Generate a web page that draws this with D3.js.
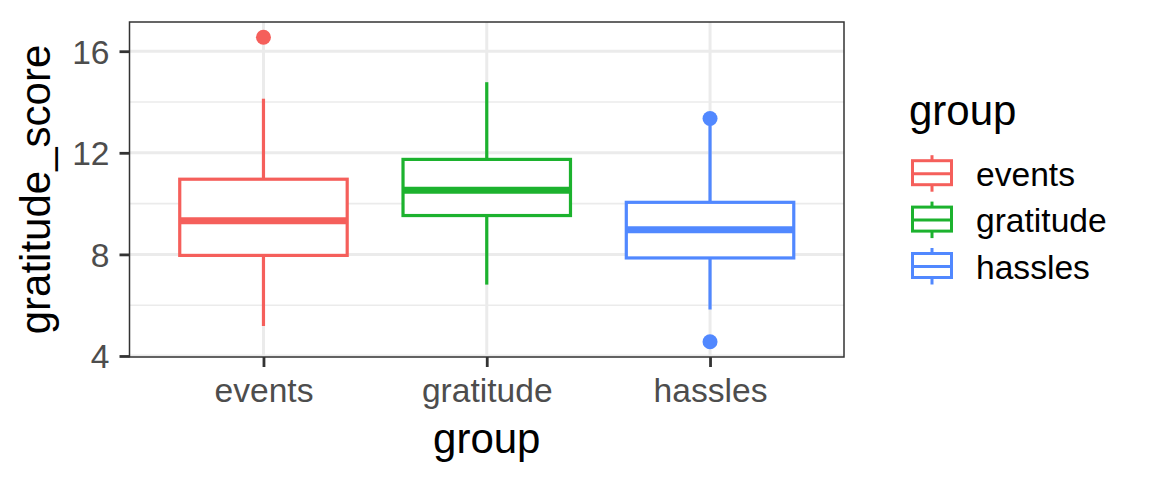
<!DOCTYPE html>
<html>
<head>
<meta charset="utf-8">
<script src="https://cdn.jsdelivr.net/npm/d3@7"></script>
<style>
  html, body { margin: 0; padding: 0; background: #fff; }
  svg { display: block; font-family: "Liberation Sans", Arial, sans-serif; }
</style>
</head>
<body>
<svg id="chart" width="1152" height="480"></svg>
<script>
// ---- data ----
const groups = ["events", "gratitude", "hassles"];
const colors = ["#F55F5B", "#1CB22E", "#5188FF"];
const whiskerLow = [5.18, 6.81, 5.83];
const q1 = [7.96, 9.53, 7.86];
const medians = [9.32, 10.53, 8.97];
const q3 = [10.96, 11.74, 10.05];
const whiskerHigh = [14.13, 14.78, 13.35];
const outlierGroup = ["events", "hassles", "hassles"];
const outlierValue = [16.55, 13.35, 4.56];
const yTicks = [4, 8, 12, 16];
const yMinor = [6, 10, 14];
const yDomain = [3.96, 17.15];

// ---- layout ----
const panel = { left: 129.5, right: 844, top: 22, bottom: 357 };
const svg = d3.select("#chart");

const x = d3.scalePoint().domain(groups).range([panel.left, panel.right]).padding(0.6);
const y = d3.scaleLinear().domain(yDomain).range([panel.bottom, panel.top]);
const color = d3.scaleOrdinal().domain(groups).range(colors);
const boxW = x.step() * 0.75;

const stats = groups.map((g, i) => ({
  g, lo: whiskerLow[i], q1: q1[i], med: medians[i], q3: q3[i], hi: whiskerHigh[i]
}));
const outliers = outlierGroup.map((g, i) => ({ g, v: outlierValue[i] }));

// panel background
svg.append("rect")
  .attr("x", panel.left).attr("y", panel.top)
  .attr("width", panel.right - panel.left).attr("height", panel.bottom - panel.top)
  .attr("fill", "#fff");

const grid = svg.append("g");
// minor y grid
grid.selectAll("line.minor").data(yMinor).join("line")
  .attr("x1", panel.left).attr("x2", panel.right)
  .attr("y1", d => y(d)).attr("y2", d => y(d))
  .attr("stroke", "#EBEBEB").attr("stroke-width", 1.6);
// major y grid
grid.selectAll("line.majory").data(yTicks).join("line")
  .attr("x1", panel.left).attr("x2", panel.right)
  .attr("y1", d => y(d)).attr("y2", d => y(d))
  .attr("stroke", "#EBEBEB").attr("stroke-width", 3);
// major x grid
grid.selectAll("line.majorx").data(groups).join("line")
  .attr("x1", d => x(d)).attr("x2", d => x(d))
  .attr("y1", panel.top).attr("y2", panel.bottom)
  .attr("stroke", "#EBEBEB").attr("stroke-width", 3);

// boxplots
const bp = svg.append("g");
stats.forEach(s => {
  const cx = x(s.g), c = color(s.g);
  const g = bp.append("g");
  g.append("line").attr("x1", cx).attr("x2", cx).attr("y1", y(s.q3)).attr("y2", y(s.hi))
    .attr("stroke", c).attr("stroke-width", 3.2);
  g.append("line").attr("x1", cx).attr("x2", cx).attr("y1", y(s.q1)).attr("y2", y(s.lo))
    .attr("stroke", c).attr("stroke-width", 3.2);
  g.append("rect").attr("x", cx - boxW / 2).attr("y", y(s.q3))
    .attr("width", boxW).attr("height", y(s.q1) - y(s.q3))
    .attr("fill", "#fff").attr("stroke", c).attr("stroke-width", 3.2);
  g.append("line").attr("x1", cx - boxW / 2).attr("x2", cx + boxW / 2)
    .attr("y1", y(s.med)).attr("y2", y(s.med))
    .attr("stroke", c).attr("stroke-width", 7);
});
bp.selectAll("circle").data(outliers).join("circle")
  .attr("cx", d => x(d.g)).attr("cy", d => y(d.v)).attr("r", 7.5)
  .attr("fill", d => color(d.g));

// panel border
svg.append("rect")
  .attr("x", panel.left).attr("y", panel.top)
  .attr("width", panel.right - panel.left).attr("height", panel.bottom - panel.top)
  .attr("fill", "none").attr("stroke", "#333333").attr("stroke-width", 1.5);

// axes
const yAxis = svg.append("g").attr("transform", `translate(${panel.left},0)`)
  .call(d3.axisLeft(y).tickValues(yTicks).tickSize(10).tickPadding(8).tickFormat(d3.format("d")));
const xAxis = svg.append("g").attr("transform", `translate(0,${panel.bottom})`)
  .call(d3.axisBottom(x).tickSize(10).tickPadding(8));
[yAxis, xAxis].forEach(a => {
  a.select(".domain").remove();
  a.selectAll(".tick line").attr("stroke", "#333333").attr("stroke-width", 2.8);
  a.selectAll(".tick text").attr("fill", "#4D4D4D")
    .style("font-size", "33.6px").style("font-family", "'Liberation Sans', Arial, sans-serif");
});
xAxis.selectAll(".tick text").attr("dy", null).attr("y", null)
  .attr("dominant-baseline", "auto").attr("transform", "translate(0,44.5)");
yAxis.selectAll(".tick text").attr("dy", "0.355em").attr("x", -20);

// axis titles
svg.append("text")
  .attr("x", (panel.left + panel.right) / 2).attr("y", 453)
  .attr("text-anchor", "middle").attr("fill", "#000")
  .style("font-size", "42px").text("group");
svg.append("text")
  .attr("transform", `translate(50,${(panel.top + panel.bottom) / 2}) rotate(-90)`)
  .attr("text-anchor", "middle").attr("fill", "#000")
  .style("font-size", "42px").text("gratitude_score");

// legend
const legend = svg.append("g");
legend.append("text").attr("x", 909).attr("y", 125).attr("fill", "#000")
  .style("font-size", "42px").text("group");
const keyX = 932, keyW = 39, keyStep = 46.4, keyTop = 172.7;
groups.forEach((gname, i) => {
  const cy = keyTop + i * keyStep, c = color(gname);
  const k = legend.append("g");
  k.append("line").attr("x1", keyX).attr("x2", keyX).attr("y1", cy - 17.5).attr("y2", cy - 12)
    .attr("stroke", c).attr("stroke-width", 3);
  k.append("line").attr("x1", keyX).attr("x2", keyX).attr("y1", cy + 12).attr("y2", cy + 19)
    .attr("stroke", c).attr("stroke-width", 3);
  k.append("rect").attr("x", keyX - keyW / 2).attr("y", cy - 12)
    .attr("width", keyW).attr("height", 24)
    .attr("fill", "#fff").attr("stroke", c).attr("stroke-width", 3);
  k.append("line").attr("x1", keyX - keyW / 2).attr("x2", keyX + keyW / 2)
    .attr("y1", cy + 1).attr("y2", cy + 1)
    .attr("stroke", c).attr("stroke-width", 3);
  k.append("text").attr("x", 976).attr("y", cy + 13).attr("fill", "#000")
    .style("font-size", "33.6px").text(gname);
});
</script>
</body>
</html>
